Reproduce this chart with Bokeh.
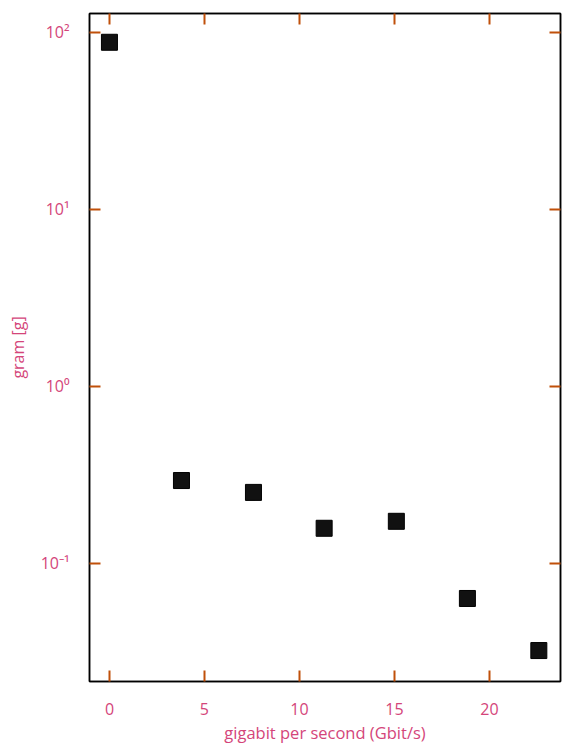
from bokeh.plotting import figure
from bokeh.models import LinearAxis, LogAxis, CustomJSTickFormatter, FixedTicker, Range1d
from bokeh.embed import file_html
from bokeh.resources import INLINE

# data
rate_gbit_s = [0.0, 3.79, 7.58, 11.3, 15.1, 18.84, 22.6]
mass_g = [88.0, 0.294, 0.252, 0.158, 0.173, 0.0634, 0.0322]
x_ticks = [0, 5, 10, 15, 20]
y_ticks = [0.1, 1, 10, 100]

TXT = "#d4457a"
TICK = "#c0500a"
FONT = "Open Sans"

p = figure(width=574, height=752, y_axis_type="log", output_backend="svg",
           toolbar_location=None,
           x_range=Range1d(-1.05, 23.74), y_range=Range1d(10**-1.667, 10**2.107),
           min_border_left=89, min_border_right=14, min_border_top=13, min_border_bottom=71)
p.grid.visible = False
p.outline_line_color = "black"
p.outline_line_width = 1.5
p.background_fill_color = "white"
p.border_fill_color = "white"

p.scatter(rate_gbit_s, mass_g, marker="square", size=16, fill_color="#111111", line_color="black", line_width=1)

sup = CustomJSTickFormatter(code="""
const m = {'-':'\u207b','0':'\u2070','1':'\u00b9','2':'\u00b2','3':'\u00b3','4':'\u2074','5':'\u2075','6':'\u2076','7':'\u2077','8':'\u2078','9':'\u2079'};
const e = String(Math.round(Math.log10(tick)));
return '10' + e.split('').map(c => m[c]).join('');
""")
blank = CustomJSTickFormatter(code="return '';")

def style(ax):
    ax.major_tick_in = 11
    ax.major_tick_out = 0
    ax.major_tick_line_color = TICK
    ax.major_tick_line_width = 2
    ax.minor_tick_line_color = None
    ax.axis_line_color = "black"
    ax.axis_line_width = 1.5
    ax.major_label_text_color = TXT
    ax.major_label_text_font = FONT
    ax.major_label_text_font_size = "16px"
    ax.axis_label_text_color = TXT
    ax.axis_label_text_font = FONT
    ax.axis_label_text_font_size = "16px"
    ax.axis_label_text_font_style = "normal"

xa = p.xaxis[0]
xa.ticker = FixedTicker(ticks=x_ticks)
xa.axis_label = "gigabit per second (Gbit/s)"
style(xa)
xa.axis_label_text_font_size = "16.5px"
xa.major_label_standoff = 21
xa.axis_label_standoff = 3

ya = p.yaxis[0]
ya.ticker = FixedTicker(ticks=y_ticks)
ya.formatter = sup
ya.axis_label = "gram [g]"
style(ya)
ya.major_label_standoff = 20
ya.axis_label_standoff = 9

top = LinearAxis(ticker=FixedTicker(ticks=x_ticks), formatter=blank, major_label_standoff=0)
style(top)
p.add_layout(top, "above")
right = LogAxis(ticker=FixedTicker(ticks=y_ticks), formatter=blank, major_label_standoff=0)
style(right)
p.add_layout(right, "right")

open("out.html", "w").write(file_html(p, INLINE))
